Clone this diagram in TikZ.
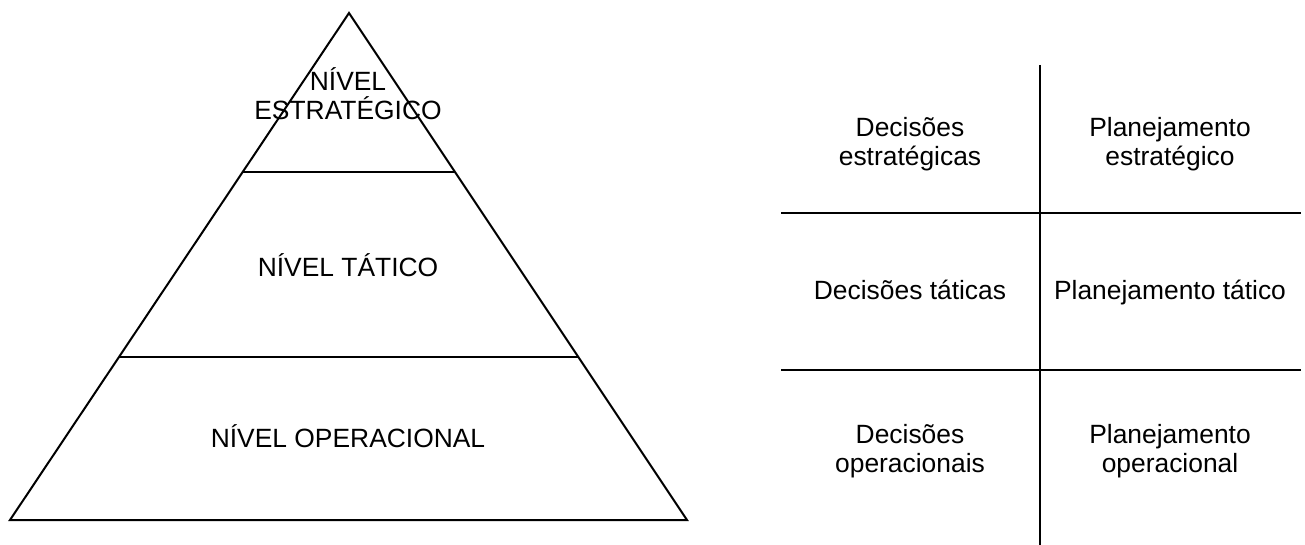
\documentclass[tikz,border=0pt]{standalone}
\usepackage{fontspec}
\setmainfont{Liberation Sans}
\usetikzlibrary{calc}
\begin{document}
\begin{tikzpicture}[x=0.75pt,y=-0.75pt,
  pyr/.style={line width=1.5pt, line join=miter},
  tab/.style={line width=2pt},
  lbl/.style={align=center, inner sep=0pt, font=\fontsize{19.8pt}{21.8pt}\selectfont}]
\useasboundingbox (0,0) rectangle (1305,545);
% pyramid
\coordinate (apex) at (349,13);
\coordinate (bl) at (10,520);
\coordinate (br) at (687,520);
\coordinate (l1) at ($(apex)!0.3136!(bl)$);
\coordinate (r1) at ($(apex)!0.3136!(br)$);
\coordinate (l2) at ($(apex)!0.6785!(bl)$);
\coordinate (r2) at ($(apex)!0.6785!(br)$);
\draw[pyr] (apex) -- (bl) -- (br) -- cycle;
\draw[pyr] (l1) -- (r1);
\draw[pyr] (l2) -- (r2);
\node[lbl] (est) at (348,94) {NÍVEL\\ESTRATÉGICO};
\node[lbl, anchor=base] (tat) at (348,276) {NÍVEL TÁTICO};
\node[lbl, anchor=base] (ope) at (348,447) {NÍVEL OPERACIONAL};
% table
\coordinate (vt) at (1040,65);
\coordinate (vb) at (1040,545);
\coordinate (h1l) at (781,213);
\coordinate (h1r) at (1301,213);
\coordinate (h2l) at (781,370);
\coordinate (h2r) at (1301,370);
\draw[tab] (vt) -- (vb);
\draw[tab] (h1l) -- (h1r);
\draw[tab] (h2l) -- (h2r);
\node[lbl] (d1) at (910,144) {Decisões\\estratégicas};
\node[lbl] (p1) at (1170,144) {Planejamento\\estratégico};
\node[lbl, anchor=base] (d2) at (910,299) {Decisões táticas};
\node[lbl, anchor=base] (p2) at (1170,299) {Planejamento tático};
\node[lbl] (d3) at (910,451) {Decisões\\operacionais};
\node[lbl] (p3) at (1170,451) {Planejamento\\operacional};
\end{tikzpicture}
\end{document}
